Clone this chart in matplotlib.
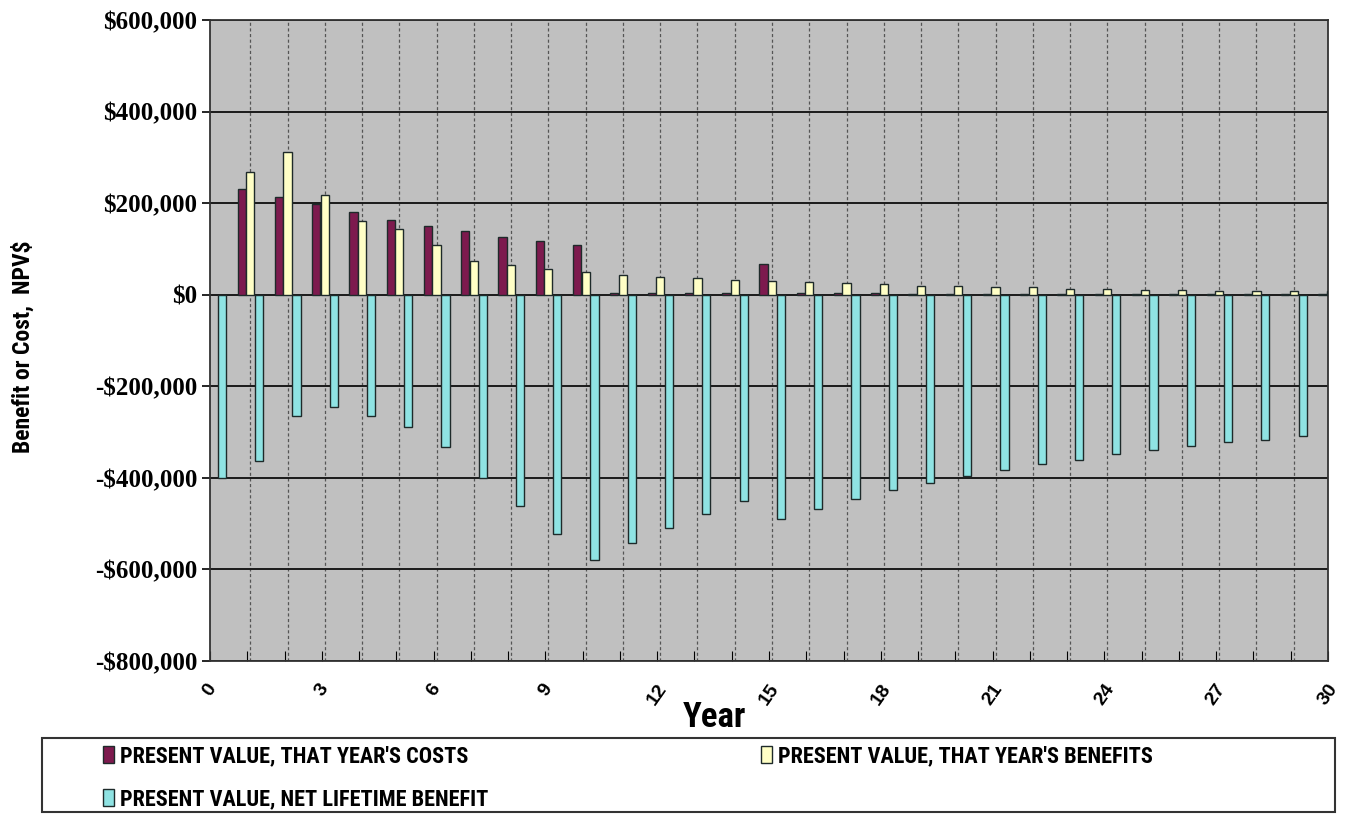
import numpy as np
import matplotlib.pyplot as plt
from matplotlib.ticker import FuncFormatter, MultipleLocator
from matplotlib.patches import Rectangle
from matplotlib import font_manager

years = np.arange(30)

# present value of that year's costs ($)
costs = [231000, 213000, 198000, 180000, 164000, 151000, 140000, 127000, 118000, 108000,
         3000, 3000, 3000, 3000, 67000, 3000, 3000, 3000, 2500, 2500,
         2500, 2500, 2500, 2000, 2000, 2000, 2000, 2000, 2000, 2000]
# present value of that year's benefits ($)
benefits = [269000, 312000, 217000, 161000, 143000, 108000, 74000, 64000, 56000, 50000,
            42000, 39000, 36000, 33000, 29000, 27000, 25500, 23000, 20000, 19500,
            17000, 16000, 13000, 12000, 11000, 10000, 9000, 8000, 8000, 7000]
# present value of net lifetime benefit ($)
net = [-400000, -364000, -266000, -246000, -266000, -288000, -333000, -400000, -461000, -522000,
       -579000, -542000, -509000, -479000, -451000, -489000, -467000, -446000, -427000, -411000,
       -397000, -383000, -369000, -360000, -349000, -340000, -330000, -322000, -317000, -309000]

labels = ["PRESENT VALUE, THAT YEAR'S COSTS",
          "PRESENT VALUE, THAT YEAR'S BENEFITS",
          "PRESENT VALUE, NET LIFETIME BENEFIT"]

c_cost = '#7d1a4e'
c_ben = '#ffffc6'
c_net = '#8fe3e3'
edge = '#1e2a2a'

names = {f.name for f in font_manager.fontManager.ttflist}
narrow = [f for f in ['Liberation Sans Narrow', 'DejaVu Sans Condensed', 'Roboto Condensed']
          if f in names] + ['Liberation Sans']

fig = plt.figure(figsize=(13.54, 8.16), dpi=100)
ax = fig.add_axes([0.1551, 0.19, 0.8257, 0.7855])
ax.set_facecolor('#c0c0c0')

w = 0.22
b1 = ax.bar(years + 0.85, costs, w, color=c_cost, edgecolor=edge, linewidth=1, zorder=3)
b2 = ax.bar(years + 1.08, benefits, w, color=c_ben, edgecolor=edge, linewidth=1, zorder=3)
b3 = ax.bar(years + 0.32, net, w, color=c_net, edgecolor=edge, linewidth=1, zorder=3)

ax.set_xlim(0, 30)
ax.set_ylim(-800000, 600000)

# horizontal gridlines
ax.yaxis.set_major_locator(MultipleLocator(200000))
ax.grid(axis='y', color='#1a1a1a', linewidth=1.4, zorder=1)
# dashed vertical gridlines
for g in years[1:] + 0.08:
    ax.axvline(g, color='#555555', linestyle=(0, (2.5, 2)), linewidth=0.9, zorder=1)

ax.yaxis.set_major_formatter(FuncFormatter(
    lambda v, p: '$0' if v == 0 else ('-$' if v < 0 else '$') + f'{abs(int(v)):,}'))
for t in ax.get_yticklabels():
    t.set_fontfamily('Liberation Serif')
    t.set_fontweight('bold')
    t.set_fontsize(18)
ax.tick_params(axis='y', direction='out', length=6, width=1.2, pad=3)

ax.set_xticks(np.arange(0, 31, 3))
ax.set_xticks(np.arange(0, 31, 1), minor=True)
ax.set_xticklabels([str(v) for v in range(0, 31, 3)], rotation=55,
                   fontfamily='Liberation Sans', fontweight='bold', fontsize=14,
                   ha='center', va='top')
ax.tick_params(axis='x', which='both', direction='in', length=7, width=0.8, pad=14)

for s in ax.spines.values():
    s.set_color('#333333')
    s.set_linewidth(1.3)

fig.text(0.017, 0.575, 'Benefit or Cost,  NPV$', rotation=90, ha='center', va='center',
         fontsize=17, fontweight='bold', family=narrow)
fig.text(0.528, 0.121, 'Year', ha='center', va='center', fontsize=25, fontweight='bold',
         family=narrow)

# legend frame across the bottom
fig.patches.append(Rectangle((0.031, 0.005), 0.955, 0.09, transform=fig.transFigure,
                             fill=False, edgecolor='#333333', linewidth=1.5))
lprop = {'family': narrow, 'weight': 'bold', 'size': 16}
common = dict(frameon=False, handlelength=0.5, handleheight=0.8, handletextpad=0.25,
              borderaxespad=0, borderpad=0, labelspacing=0.95, prop=lprop)
fig.legend([b1, b3], [labels[0], labels[2]], loc='upper left',
           bbox_to_anchor=(0.076, 0.087), **common)
fig.legend([b2], [labels[1]], loc='upper left',
           bbox_to_anchor=(0.562, 0.087), **common)

fig.savefig('out.png', dpi=100)
